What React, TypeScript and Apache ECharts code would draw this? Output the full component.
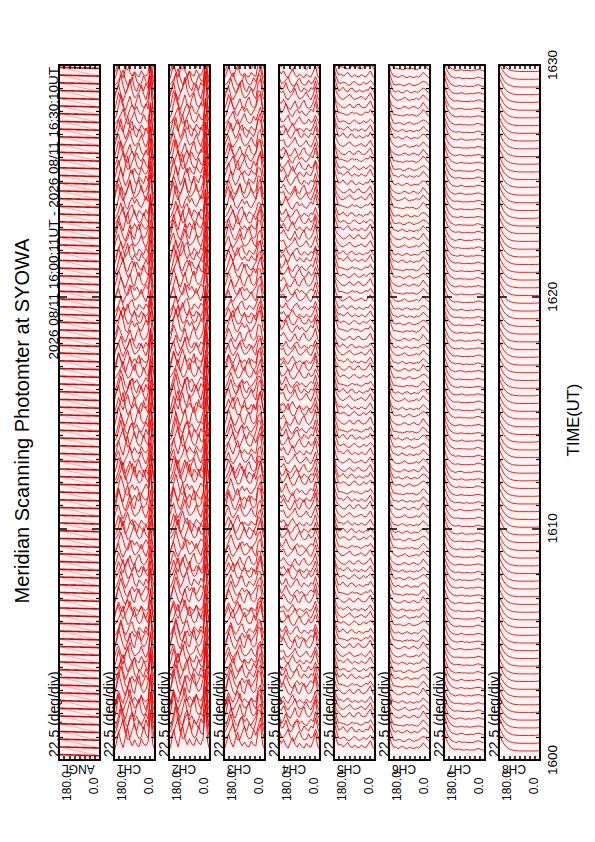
import React, { useEffect, useRef } from "react";
import * as echarts from "echarts";

// ---------- data ----------
const CHANNELS = ["ANGL", "CH1", "CH2", "CH3", "CH4", "CH5", "CH6", "CH7", "CH8"];
const TIME_TICK_LABELS = ["1600", "1610", "1620", "1630"];
const ANGLE_END_LABELS = ["180.0", "0.0"];
const TITLE = "Meridian Scanning Photomter at SYOWA";
const PERIOD = "2026 08/11 16:00:11UT - 2026 08/11 16:30:10UT";
const SCALE_LABEL = "22.5 (deg/div)";
const TIME_TITLE = "TIME(UT)";

// scan geometry (read from the header: first scan 16:00:11, one scan every 20 s, 90 scans)
const START_SEC = 11;
const CADENCE_SEC = 20;
const SCAN_COUNT = 90;

// scan angles, left (180) to right (0)
const ANGLES = [180, 170, 160, 150, 140, 130, 120, 110, 100, 90, 80, 70, 60, 50, 40, 30, 20, 10, 0];

// which profile shape each scan shows
const SHAPE_SEQ = [
  0, 3, 1, 5, 2, 4, 0, 2, 5, 1,
  3, 0, 4, 2, 5, 1, 3, 4, 0, 2,
  5, 1, 3, 0, 2, 4, 5, 3, 1, 0,
  4, 2, 0, 5, 3, 1, 2, 4, 0, 3,
  1, 5, 2, 3, 0, 4, 1, 5, 3, 2,
  0, 4, 1, 2, 5, 3, 0, 1, 4, 5,
  2, 3, 5, 0, 1, 4, 2, 0, 3, 1,
  5, 4, 2, 1, 0, 3, 5, 2, 4, 1,
  0, 3, 5, 2, 4, 1, 3, 0, 5, 2,
];

// overall auroral activity per scan
const ACTIVITY = [
  1.3, 1.2, 1.4, 1.1, 1.3, 1.2, 1.0, 1.3, 1.1, 1.2,
  1.0, 1.1, 0.9, 1.2, 1.0, 0.9, 1.1, 1.0, 0.8, 1.0,
  0.9, 1.0, 1.1, 0.9, 0.8, 1.0, 0.9, 1.1, 1.0, 0.9,
  1.0, 1.2, 1.1, 1.0, 1.3, 1.1, 0.9, 1.0, 1.2, 1.1,
  1.2, 1.0, 1.1, 1.3, 1.0, 1.2, 1.1, 0.9, 1.0, 1.1,
  0.9, 1.0, 0.8, 0.9, 1.1, 1.0, 0.9, 0.8, 1.0, 0.9,
  1.0, 1.1, 1.0, 1.2, 0.9, 1.0, 1.1, 1.2, 1.0, 0.9,
  1.1, 1.2, 1.0, 1.1, 1.3, 1.0, 1.1, 0.9, 1.0, 1.2,
  1.0, 0.9, 1.1, 1.0, 1.2, 1.1, 0.9, 1.0, 1.1, 1.0,
];

// how strongly each channel follows the activity (index = channel number)
const ACTIVITY_WEIGHT = [0, 1.0, 1.0, 0.9, 0.8, 0.5, 0.4, 0.2, 0.1];

// profile shapes (in units of the scan spacing), 6 per channel
const CH1_PROFILES = [
  [0.3, 1.2, 2.4, 1.4, 0.8, 1.9, 2.8, 1.5, 1.0, 1.6, 1.1, 0.9, 1.7, 1.2, 1.0, 1.4, 4.6, 1.2, 0.5],
  [0.5, 0.9, 1.7, 2.9, 1.6, 0.7, 1.3, 2.2, 2.6, 1.3, 0.9, 1.8, 1.4, 1.0, 1.9, 1.3, 4.2, 1.6, 0.6],
  [0.4, 1.5, 2.9, 2.0, 1.1, 0.6, 1.5, 2.4, 1.2, 0.8, 2.0, 2.6, 1.3, 0.9, 1.2, 2.0, 5.0, 1.1, 0.4],
  [0.8, 1.1, 1.6, 2.3, 3.1, 1.7, 0.9, 1.1, 1.9, 2.7, 1.5, 1.0, 1.2, 2.3, 1.5, 1.1, 3.8, 2.0, 0.7],
  [0.6, 1.8, 2.5, 1.3, 0.7, 1.4, 2.0, 3.0, 1.7, 1.0, 1.2, 1.6, 2.4, 1.4, 0.8, 1.7, 4.4, 1.3, 0.5],
  [0.3, 0.8, 2.0, 3.3, 2.2, 1.0, 0.7, 1.6, 2.1, 1.4, 1.9, 1.2, 0.9, 1.5, 2.2, 1.6, 4.8, 1.5, 0.6],
];
const CH2_PROFILES = [
  [0.4, 1.3, 2.6, 1.6, 0.9, 2.0, 3.0, 1.7, 1.1, 1.7, 1.2, 1.0, 1.8, 1.3, 1.1, 1.8, 5.2, 1.3, 0.5],
  [0.6, 1.0, 1.9, 3.1, 1.7, 0.8, 1.4, 2.4, 2.8, 1.4, 1.0, 1.9, 1.5, 1.1, 2.0, 1.6, 4.9, 1.8, 0.6],
  [0.5, 1.6, 3.1, 2.2, 1.2, 0.7, 1.6, 2.6, 1.3, 0.9, 2.1, 2.8, 1.4, 1.0, 1.3, 2.3, 5.6, 1.2, 0.4],
  [0.9, 1.2, 1.7, 2.5, 3.3, 1.8, 1.0, 1.2, 2.0, 2.9, 1.6, 1.1, 1.3, 2.4, 1.6, 1.5, 4.5, 2.1, 0.7],
  [0.7, 1.9, 2.7, 1.4, 0.8, 1.5, 2.1, 3.2, 1.8, 1.1, 1.3, 1.7, 2.5, 1.5, 0.9, 2.0, 5.1, 1.4, 0.5],
  [0.4, 0.9, 2.2, 3.5, 2.3, 1.1, 0.8, 1.7, 2.2, 1.5, 2.0, 1.3, 1.0, 1.6, 2.3, 1.9, 5.4, 1.6, 0.6],
];
const CH3_PROFILES = [
  [0.6, 1.3, 2.2, 1.4, 0.9, 1.7, 2.4, 1.4, 1.0, 1.4, 1.0, 0.9, 1.5, 1.1, 1.0, 2.6, 3.2, 1.1, 0.6],
  [0.7, 1.0, 1.6, 2.5, 1.5, 0.8, 1.2, 2.0, 2.3, 1.2, 0.9, 1.6, 1.3, 1.0, 1.7, 2.9, 2.8, 1.4, 0.6],
  [0.6, 1.4, 2.6, 1.8, 1.0, 0.7, 1.4, 2.1, 1.1, 0.8, 1.8, 2.3, 1.2, 0.9, 1.2, 3.1, 3.0, 1.0, 0.5],
  [0.9, 1.1, 1.5, 2.1, 2.7, 1.5, 0.9, 1.0, 1.7, 2.4, 1.4, 1.0, 1.1, 2.0, 1.4, 2.4, 3.3, 1.7, 0.7],
  [0.7, 1.6, 2.3, 1.2, 0.8, 1.3, 1.8, 2.6, 1.5, 1.0, 1.1, 1.5, 2.1, 1.3, 0.9, 2.7, 3.1, 1.2, 0.6],
  [0.5, 0.9, 1.9, 2.9, 1.9, 1.0, 0.8, 1.4, 1.9, 1.3, 1.7, 1.1, 0.9, 1.4, 1.9, 3.0, 3.4, 1.3, 0.6],
];
const CH4_PROFILES = [
  [1.8, 1.3, 1.7, 1.1, 0.8, 1.4, 1.9, 1.2, 0.9, 1.3, 1.0, 0.8, 1.3, 1.0, 0.9, 1.5, 2.4, 1.0, 0.6],
  [2.0, 1.2, 1.3, 2.0, 1.2, 0.8, 1.1, 1.7, 1.9, 1.1, 0.9, 1.4, 1.1, 0.9, 1.4, 1.2, 2.2, 1.2, 0.6],
  [1.7, 1.5, 2.0, 1.4, 0.9, 0.7, 1.2, 1.8, 1.0, 0.8, 1.5, 1.9, 1.1, 0.8, 1.0, 1.6, 2.6, 1.0, 0.5],
  [2.1, 1.2, 1.2, 1.6, 2.1, 1.2, 0.8, 0.9, 1.5, 1.9, 1.2, 0.9, 1.0, 1.6, 1.1, 1.3, 2.1, 1.4, 0.6],
  [1.9, 1.6, 1.8, 1.0, 0.8, 1.2, 1.5, 2.1, 1.3, 0.9, 1.0, 1.3, 1.7, 1.1, 0.8, 1.4, 2.3, 1.1, 0.6],
  [2.2, 1.1, 1.5, 2.3, 1.5, 0.9, 0.7, 1.3, 1.6, 1.1, 1.4, 1.0, 0.8, 1.2, 1.6, 1.3, 2.5, 1.2, 0.6],
];
const CH5_PROFILES = [
  [3.0, 1.8, 1.2, 1.3, 1.0, 1.2, 1.5, 1.1, 0.9, 1.2, 1.0, 0.9, 1.2, 1.0, 0.9, 1.3, 1.7, 1.0, 0.7],
  [3.2, 1.9, 1.1, 1.2, 1.5, 1.1, 0.9, 1.3, 1.4, 1.0, 0.9, 1.2, 1.0, 0.9, 1.2, 1.1, 1.6, 1.1, 0.7],
  [2.9, 1.7, 1.4, 1.1, 0.9, 0.9, 1.2, 1.4, 1.0, 0.9, 1.3, 1.4, 1.0, 0.9, 1.0, 1.4, 1.8, 1.0, 0.6],
  [3.3, 2.0, 1.2, 1.1, 1.3, 1.2, 0.9, 0.9, 1.2, 1.4, 1.1, 0.9, 1.0, 1.3, 1.0, 1.2, 1.5, 1.2, 0.7],
  [3.1, 1.8, 1.3, 1.0, 0.9, 1.1, 1.3, 1.5, 1.1, 0.9, 1.0, 1.1, 1.3, 1.0, 0.9, 1.3, 1.7, 1.0, 0.7],
  [3.4, 2.1, 1.2, 1.2, 1.1, 1.0, 0.9, 1.1, 1.3, 1.1, 1.2, 1.0, 0.9, 1.1, 1.3, 1.2, 1.6, 1.1, 0.7],
];
const CH6_PROFILES = [
  [2.5, 1.5, 1.0, 1.0, 0.8, 1.0, 1.1, 0.9, 0.8, 1.0, 0.9, 0.8, 1.0, 0.9, 1.1, 1.5, 1.2, 0.9, 0.7],
  [2.7, 1.6, 1.0, 0.9, 1.1, 0.9, 0.8, 1.0, 1.1, 0.9, 0.8, 1.0, 0.9, 0.9, 1.2, 1.4, 1.3, 0.9, 0.7],
  [2.4, 1.4, 1.1, 0.9, 0.8, 0.8, 1.0, 1.1, 0.9, 0.8, 1.0, 1.1, 0.9, 0.8, 1.1, 1.6, 1.2, 0.8, 0.6],
  [2.8, 1.7, 1.0, 0.9, 1.0, 1.0, 0.8, 0.8, 1.0, 1.1, 0.9, 0.8, 0.9, 1.0, 1.2, 1.4, 1.3, 1.0, 0.7],
  [2.6, 1.5, 1.1, 0.9, 0.8, 0.9, 1.0, 1.2, 0.9, 0.8, 0.9, 0.9, 1.1, 0.9, 1.1, 1.5, 1.2, 0.9, 0.7],
  [2.9, 1.7, 1.0, 1.0, 0.9, 0.9, 0.8, 0.9, 1.0, 0.9, 1.0, 0.9, 0.8, 0.9, 1.2, 1.6, 1.3, 0.9, 0.7],
];
const CH7_PROFILES = [
  [3.0, 2.0, 1.4, 1.0, 0.85, 0.75, 0.8, 0.8, 0.7, 0.7, 0.75, 0.7, 0.7, 0.7, 0.8, 0.9, 0.8, 0.7, 0.7],
  [3.2, 2.1, 1.4, 1.0, 0.8, 0.75, 0.7, 0.8, 0.85, 0.7, 0.7, 0.7, 0.75, 0.7, 0.8, 0.85, 0.8, 0.7, 0.6],
  [2.9, 1.9, 1.3, 0.95, 0.8, 0.7, 0.8, 0.85, 0.8, 0.7, 0.7, 0.75, 0.7, 0.8, 0.8, 0.9, 0.8, 0.7, 0.7],
  [3.1, 2.0, 1.4, 1.0, 0.85, 0.7, 0.75, 0.8, 0.7, 0.75, 0.7, 0.7, 0.7, 0.7, 0.85, 0.9, 0.8, 0.7, 0.6],
  [3.0, 1.9, 1.35, 1.0, 0.8, 0.75, 0.8, 0.75, 0.7, 0.7, 0.7, 0.7, 0.75, 0.7, 0.8, 0.9, 0.85, 0.7, 0.65],
  [3.3, 2.1, 1.45, 1.05, 0.85, 0.75, 0.7, 0.8, 0.8, 0.7, 0.75, 0.7, 0.7, 0.75, 0.8, 0.85, 0.8, 0.7, 0.6],
];
const CH8_PROFILES = [
  [2.8, 2.1, 1.55, 1.2, 0.95, 0.8, 0.7, 0.65, 0.62, 0.6, 0.6, 0.6, 0.6, 0.6, 0.6, 0.6, 0.6, 0.62, 0.66],
  [2.9, 2.2, 1.6, 1.2, 0.95, 0.8, 0.7, 0.65, 0.62, 0.6, 0.6, 0.6, 0.6, 0.6, 0.6, 0.6, 0.62, 0.65, 0.7],
  [2.7, 2.0, 1.5, 1.15, 0.9, 0.78, 0.7, 0.65, 0.62, 0.6, 0.6, 0.6, 0.6, 0.6, 0.6, 0.6, 0.6, 0.62, 0.66],
  [2.8, 2.05, 1.5, 1.15, 0.92, 0.8, 0.7, 0.65, 0.62, 0.6, 0.6, 0.6, 0.6, 0.6, 0.6, 0.6, 0.6, 0.62, 0.66],
  [2.85, 2.1, 1.55, 1.18, 0.93, 0.8, 0.7, 0.65, 0.62, 0.6, 0.6, 0.6, 0.6, 0.6, 0.6, 0.6, 0.61, 0.63, 0.67],
  [2.75, 2.0, 1.5, 1.15, 0.92, 0.78, 0.7, 0.65, 0.62, 0.6, 0.6, 0.6, 0.6, 0.6, 0.6, 0.6, 0.6, 0.62, 0.66],
];
const CHANNEL_PROFILES = [null, CH1_PROFILES, CH2_PROFILES, CH3_PROFILES, CH4_PROFILES,
  CH5_PROFILES, CH6_PROFILES, CH7_PROFILES, CH8_PROFILES];

// ANGL panel: the scan angle itself, drawn with a small gain
const ANGL_GAIN = 0.15 / 180; // spacing units per degree

// ---------- layout ----------
const PANEL_LEFT0 = 59;
const PANEL_STEP = 55;
const PANEL_W = 41;
const PANEL_TOP = 65;
const PANEL_H = 695;
const FONT = "'Liberation Sans', Arial, Helvetica, sans-serif";
const RED = "#ff0000";

function buildOption() {
  const spacing = CADENCE_SEC / 60; // minutes between scans
  const scanTime = (i: number) => (START_SEC + i * CADENCE_SEC) / 60;

  const grids: any[] = [];
  const xAxes: any[] = [];
  const yAxes: any[] = [];
  const series: any[] = [];
  const graphics: any[] = [];

  const frameLine = { show: true, onZero: false, lineStyle: { color: "#000", width: 2 } };

  CHANNELS.forEach((name, k) => {
    const left = PANEL_LEFT0 + k * PANEL_STEP;
    grids.push({
      left, top: PANEL_TOP, width: PANEL_W, height: PANEL_H,
      show: true, backgroundColor: "#fff3f3", borderWidth: 0,
    });
    ["bottom", "top"].forEach((pos) => {
      xAxes.push({
        gridIndex: k, type: "value", min: 0, max: 180, interval: 22.5, inverse: true,
        position: pos, z: 10,
        axisLine: frameLine,
        axisTick: { show: true, inside: true, length: 4, lineStyle: { color: "#000", width: 1.5 } },
        axisLabel: { show: false }, splitLine: { show: false },
      });
    });
    ["left", "right"].forEach((pos) => {
      const isLabelAxis = k === CHANNELS.length - 1 && pos === "right";
      yAxes.push({
        gridIndex: k, type: "value", min: 0, max: 30, interval: 10,
        position: pos, z: 10,
        axisLine: frameLine,
        axisTick: { show: true, inside: true, length: 8, lineStyle: { color: "#000", width: 1.5 } },
        minorTick: { show: true, splitNumber: 10, length: 4, lineStyle: { color: "#000", width: 1.2 } },
        splitLine: { show: false }, minorSplitLine: { show: false },
        axisLabel: isLabelAxis
          ? {
              show: true, rotate: 90, margin: 5, fontSize: 13.5, color: "#000", fontFamily: FONT,
              showMinLabel: true, showMaxLabel: true,
              formatter: (v: number) => TIME_TICK_LABELS[Math.round(v / 10)] ?? "",
            }
          : { show: false },
      });
    });

    // traces
    if (k === 0) {
      const scans: any[] = [];
      const retraces: any[] = [];
      for (let i = 0; i < SCAN_COUNT; i++) {
        const t = scanTime(i);
        const coords = ANGLES.map((a) => [a, t + a * ANGL_GAIN * spacing]);
        scans.push({ coords });
        if (i < SCAN_COUNT - 1) {
          const tn = scanTime(i + 1);
          retraces.push({
            coords: [coords[coords.length - 1], [ANGLES[0], tn + ANGLES[0] * ANGL_GAIN * spacing]],
          });
        }
      }
      series.push({
        type: "lines", coordinateSystem: "cartesian2d", polyline: true,
        xAxisIndex: 0, yAxisIndex: 0, clip: true, silent: true, z: 2,
        lineStyle: { color: RED, width: 0.35, opacity: 0.85 },
        data: retraces,
      });
      series.push({
        type: "lines", coordinateSystem: "cartesian2d", polyline: true,
        xAxisIndex: 0, yAxisIndex: 0, clip: true, silent: true, z: 3,
        lineStyle: { color: "#e00000", width: 1.6, opacity: 1 },
        data: scans,
      });
    } else {
      const data: any[] = [];
      const profiles = CHANNEL_PROFILES[k] as number[][];
      const w = ACTIVITY_WEIGHT[k];
      for (let i = 0; i < SCAN_COUNT; i++) {
        const t = scanTime(i);
        const amp = 1 + w * (ACTIVITY[i] - 1);
        const prof = profiles[SHAPE_SEQ[i]];
        data.push({ coords: ANGLES.map((a, j) => [a, t + prof[j] * amp * spacing]) });
      }
      series.push({
        type: "lines", coordinateSystem: "cartesian2d", polyline: true,
        xAxisIndex: 2 * k, yAxisIndex: 2 * k, clip: true, silent: true, z: 2,
        lineStyle: { color: RED, width: 0.9, opacity: 1 },
        data,
      });
    }

    // panel texts
    graphics.push({
      type: "text", x: left - 5.5, y: PANEL_TOP + PANEL_H - 3, rotation: Math.PI / 2, silent: true,
      style: { text: SCALE_LABEL, fontSize: 14, fontFamily: FONT, fill: "#000", align: "left", verticalAlign: "middle" },
    });
    graphics.push({
      type: "text", x: left + 3, y: PANEL_TOP + PANEL_H + 9, rotation: Math.PI, silent: true,
      style: { text: name, fontSize: 12, fontFamily: FONT, fill: "#000", align: "right", verticalAlign: "middle" },
    });
    graphics.push({
      type: "text", x: left + 7.5, y: 786, rotation: Math.PI / 2, silent: true,
      style: { text: ANGLE_END_LABELS[0], fontSize: 12, fontFamily: FONT, fill: "#000", align: "center", verticalAlign: "middle" },
    });
    graphics.push({
      type: "text", x: left + 35, y: 786, rotation: Math.PI / 2, silent: true,
      style: { text: ANGLE_END_LABELS[1], fontSize: 12, fontFamily: FONT, fill: "#000", align: "center", verticalAlign: "middle" },
    });
  });

  graphics.push({
    type: "text", x: 22, y: 421, rotation: Math.PI / 2, silent: true,
    style: { text: TITLE, fontSize: 20, fontFamily: FONT, fill: "#000", align: "center", verticalAlign: "middle" },
  });
  graphics.push({
    type: "text", x: 53, y: PANEL_TOP + 2, rotation: Math.PI / 2, silent: true,
    style: { text: PERIOD, fontSize: 13.5, fontFamily: FONT, fill: "#000", align: "right", verticalAlign: "middle" },
  });
  graphics.push({
    type: "text", x: 573, y: 420, rotation: Math.PI / 2, silent: true,
    style: { text: TIME_TITLE, fontSize: 16.5, fontFamily: FONT, fill: "#000", align: "center", verticalAlign: "middle" },
  });

  return {
    animation: false,
    backgroundColor: "#ffffff",
    grid: grids,
    xAxis: xAxes,
    yAxis: yAxes,
    series,
    graphic: graphics,
  };
}

export default function App() {
  const ref = useRef<HTMLDivElement>(null);
  useEffect(() => {
    const chart = echarts.init(ref.current!, null, { renderer: "svg" });
    chart.setOption(buildOption() as any);
    return () => chart.dispose();
  }, []);
  return (
    <div
      ref={ref}
      style={{ position: "absolute", left: 0, top: 0, width: 595, height: 842, background: "#fff" }}
    />
  );
}
